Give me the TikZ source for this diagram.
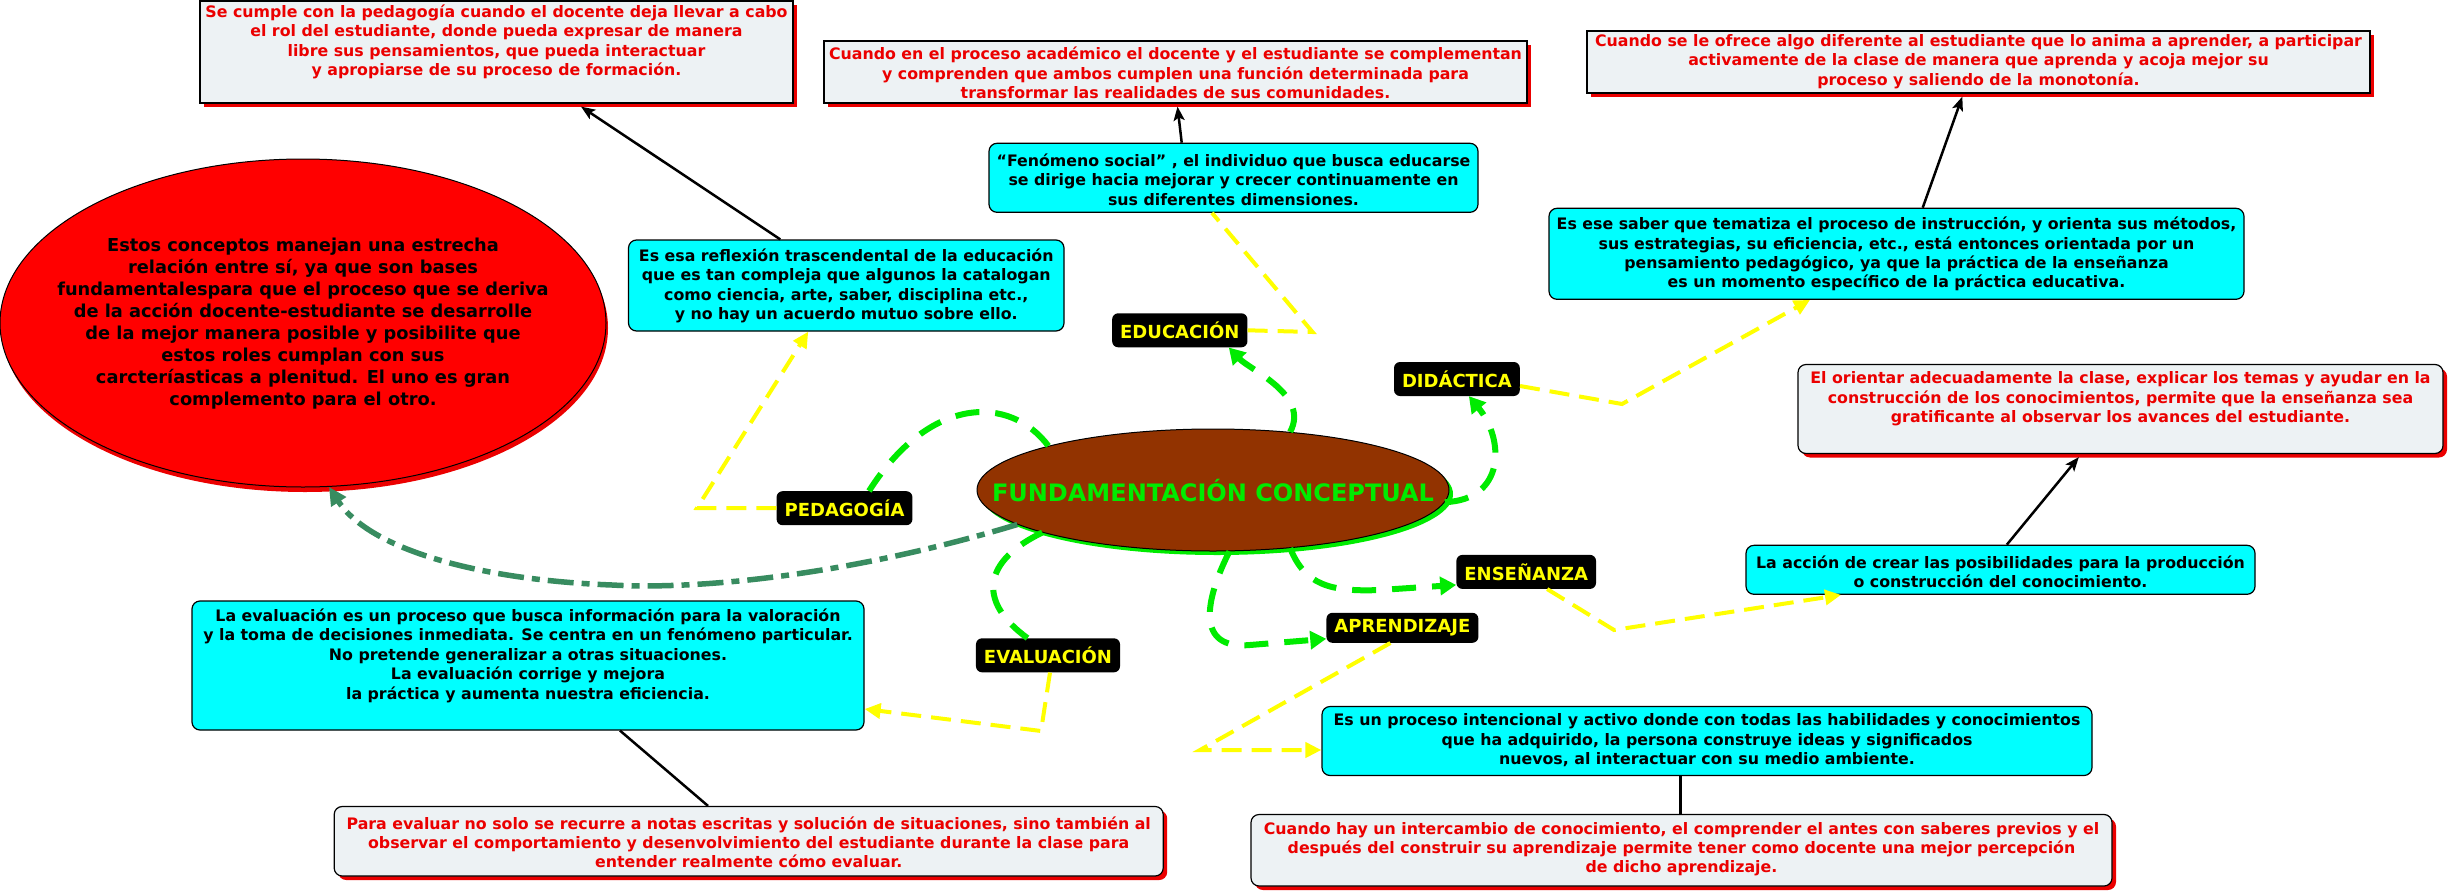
\documentclass[tikz,border=0pt]{standalone}
\usepackage{fontspec}
\setmainfont{DejaVu Sans}
\usetikzlibrary{arrows.meta,shadows,shapes.geometric}
\definecolor{cmred}{RGB}{235,0,0}
\definecolor{boxgray}{RGB}{237,242,244}
\definecolor{cmcyan}{RGB}{0,255,255}
\definecolor{brownc}{RGB}{146,51,0}
\definecolor{brightgreen}{RGB}{0,235,0}
\definecolor{seagreenc}{RGB}{56,140,96}
\definecolor{cmyellow}{RGB}{255,255,0}
\begin{document}
\begin{tikzpicture}[x=1pt,y=-1pt,
  redbox/.style={draw=black, line width=1.2pt, fill=boxgray, inner sep=0pt,
    drop shadow={shadow xshift=4pt, shadow yshift=-4pt, fill=cmred, opacity=1}},
  redboxr/.style={redbox, rounded corners=8pt},
  cyanbox/.style={draw=black, line width=1.2pt, fill=cmcyan, rounded corners=8pt, inner sep=0pt},
  bodytxt/.style={font=\fontsize{15.8}{19.4}\selectfont\bfseries, align=center, inner sep=0pt},
  tagbox/.style={fill=black, rounded corners=6pt, text=cmyellow,
    font=\fontsize{18}{22}\selectfont\bfseries, minimum height=34pt, inner xsep=8pt, inner ysep=0pt},
  blk/.style={draw=black, line width=2.5pt, -{Stealth[length=14pt,width=11pt,inset=3pt]}},
  blkplain/.style={draw=black, line width=2.5pt},
  ylw/.style={draw=cmyellow, line width=4pt, dash pattern=on 20pt off 10pt},
  ylwa/.style={ylw, -{Triangle[length=16pt,width=15pt]}},
  grn/.style={draw=brightgreen, line width=6pt, dash pattern=on 24pt off 16pt},
  grna/.style={grn, -{Triangle[length=16pt,width=18pt]}},
  dkg/.style={draw=seagreenc, line width=5.5pt, dash pattern=on 26pt off 8pt on 8pt off 8pt,
    -{Triangle[length=18pt,width=17pt]}}
]
\path[use as bounding box] (0,0) rectangle (2448,891);

% main ellipses
\node[ellipse, draw=black, line width=1pt, fill=red, minimum width=606pt, minimum height=328pt, inner sep=0pt,
  drop shadow={shadow xshift=2pt, shadow yshift=-5pt, fill=cmred, opacity=1}] (R) at (303,323) {};
\node[font=\fontsize{17.8}{22}\selectfont\bfseries, align=center, inner sep=0pt] (Rt) at (303,323.5)
  {Estos conceptos manejan una estrecha\\relación entre sí, ya que son bases\\fundamentalespara que el proceso que se deriva\\de la acción docente-estudiante se desarrolle\\de la mejor manera posible y posibilite que\\estos roles cumplan con sus\\carcteríasticas a plenitud. El uno es gran\\complemento para el otro.};

\node[ellipse, draw=black, line width=1pt, fill=brownc, minimum width=472pt, minimum height=122pt, inner sep=0pt,
  drop shadow={shadow xshift=4pt, shadow yshift=-4pt, fill=brightgreen, opacity=1}] (FC) at (1213,490) {};
\node[text=brightgreen, font=\fontsize{24}{28}\selectfont\bfseries, inner sep=0pt] (FCt) at (1213,490.5) {FUNDAMENTACIÓN CONCEPTUAL};

% red-text boxes
\node[redbox, minimum width=593pt, minimum height=102pt] (A) at (496.5,52) {};
\node[bodytxt, text=cmred] (At) at (496.5,42)
  {Se cumple con la pedagogía cuando el docente deja llevar a cabo\\el rol del estudiante, donde pueda expresar de manera\\libre sus pensamientos, que pueda interactuar\\y apropiarse de su proceso de formación.};
\node[redbox, minimum width=703pt, minimum height=62pt] (B) at (1175.5,72) {};
\node[bodytxt, text=cmred] (Bt) at (1175.5,72.8)
  {Cuando en el proceso académico el docente y el estudiante se complementan\\y comprenden que ambos cumplen una función determinada para\\transformar las realidades de sus comunidades.};
\node[redbox, minimum width=783pt, minimum height=62pt] (C) at (1978.5,62) {};
\node[bodytxt, text=cmred] (Ct) at (1978.5,61.5)
  {Cuando se le ofrece algo diferente al estudiante que lo anima a aprender, a participar\\activamente de la clase de manera que aprenda y acoja mejor su\\proceso y saliendo de la monotonía.};
\node[redboxr, minimum width=645pt, minimum height=89pt] (G) at (2120.5,409) {};
\node[bodytxt, text=cmred] (Gt) at (2120.5,398.7)
  {El orientar adecuadamente la clase, explicar los temas y ayudar en la\\construcción de los conocimientos, permite que la enseñanza sea\\gratificante al observar los avances del estudiante.};
\node[redboxr, minimum width=861pt, minimum height=71.5pt] (J) at (1681.5,850.25) {};
\node[bodytxt, text=cmred] (Jt) at (1681.5,849.1)
  {Cuando hay un intercambio de conocimiento, el comprender el antes con saberes previos y el\\después del construir su aprendizaje permite tener como docente una mejor percepción\\de dicho aprendizaje.};
\node[redboxr, minimum width=829pt, minimum height=69.5pt] (L) at (748.7,841.25) {};
\node[bodytxt, text=cmred] (Lt) at (748.7,842.2)
  {Para evaluar no solo se recurre a notas escritas y solución de situaciones, sino también al\\observar el comportamiento y desenvolvimiento del estudiante durante la clase para\\entender realmente cómo evaluar.};

% cyan boxes
\node[cyanbox, minimum width=489pt, minimum height=69pt] (D) at (1233.5,177.8) {};
\node[bodytxt] (Dt) at (1233.5,179.4)
  {“Fenómeno social” , el individuo que busca educarse\\se dirige hacia mejorar y crecer continuamente en\\sus diferentes dimensiones.};
\node[cyanbox, minimum width=435.5pt, minimum height=91pt] (E) at (846.25,285.5) {};
\node[bodytxt] (Et) at (846.25,285.9)
  {Es esa reflexión trascendental de la educación\\que es tan compleja que algunos la catalogan\\como ciencia, arte, saber, disciplina etc.,\\y no hay un acuerdo mutuo sobre ello.};
\node[cyanbox, minimum width=695pt, minimum height=91pt] (F) at (1896.5,253.8) {};
\node[bodytxt] (Ft) at (1896.5,254.2)
  {Es ese saber que tematiza el proceso de instrucción, y orienta sus métodos,\\sus estrategias, su eficiencia, etc., está entonces orientada por un\\pensamiento pedagógico, ya que la práctica de la enseñanza\\es un momento específico de la práctica educativa.};
\node[cyanbox, minimum width=509pt, minimum height=49pt] (H) at (2000.5,569.8) {};
\node[bodytxt] (Ht) at (2000.5,571.5)
  {La acción de crear las posibilidades para la producción\\o construcción del conocimiento.};
\node[cyanbox, minimum width=770pt, minimum height=69pt] (I) at (1707,741) {};
\node[bodytxt] (It) at (1707,740.5)
  {Es un proceso intencional y activo donde con todas las habilidades y conocimientos\\que ha adquirido, la persona construye ideas y significados\\nuevos, al interactuar con su medio ambiente.};
\node[cyanbox, minimum width=672pt, minimum height=129pt] (K) at (528,665.5) {};
\node[bodytxt] (Kt) at (528,655.6)
  {La evaluación es un proceso que busca información para la valoración\\y la toma de decisiones inmediata. Se centra en un fenómeno particular.\\No pretende generalizar a otras situaciones.\\La evaluación corrige y mejora\\la práctica y aumenta nuestra eficiencia.};

% labels
\node[tagbox] (EDU) at (1179.8,330.3) {EDUCACIÓN};
\node[tagbox] (DID) at (1456.9,379) {DIDÁCTICA};
\node[tagbox] (PED) at (844.5,508.2) {PEDAGOGÍA};
\node[tagbox] (EVA) at (1048,655.3) {EVALUACIÓN};
\node[tagbox, minimum height=30pt] (APR) at (1402.4,627.8) {APRENDIZAJE};
\node[tagbox] (ENS) at (1526.2,571.9) {ENSEÑANZA};

% black connectors
\draw[blk] ([xshift=-66pt]E.north) -- ([xshift=84.5pt,yshift=-3pt]A.south);
\draw[blk] ([xshift=-51.8pt]D.north) -- ([xshift=2pt,yshift=-3pt]B.south);
\draw[blk] ([xshift=26.2pt]F.north) -- ([xshift=-16.2pt,yshift=-3pt]C.south);
\draw[blk] ([xshift=6.3pt]H.north) -- ([xshift=-41.7pt,yshift=-3pt]G.south);
\draw[blkplain] ([xshift=92pt]K.south) -- ([xshift=-40.7pt]L.north);
\draw[blkplain] ([xshift=-26.4pt]I.south) -- ([xshift=-0.9pt]J.north);

% yellow connectors
\coordinate (y1) at (697,508);
\coordinate (y2) at (1312.5,332);
\coordinate (y3) at (1622,404);
\coordinate (y4) at (1614,630);
\coordinate (y5) at (1200,750);
\coordinate (y6) at (1041,731);
\draw[ylwa] (PED.west) -- (y1) -- ([xshift=-38pt]E.south);
\draw[ylw] (EDU.east) -- (y2) -- ([xshift=-21.5pt]D.south);
\draw[ylwa] ([yshift=-7pt]DID.east) -- (y3) -- ([xshift=-86.5pt]F.south);
\draw[ylwa] ([xshift=21pt]ENS.south) -- (y4) -- ([xshift=-159.5pt]H.south);
\draw[ylwa] ([xshift=-12pt]APR.south) -- (y5) -- ([yshift=-9pt]I.west);
\draw[ylwa] ([xshift=2pt]EVA.south) -- (y6) -- ([yshift=-43.5pt]K.east);

% green connectors
\coordinate (g1) at (1250,645);
\coordinate (g2) at (1380,590);
\draw[grna] (FC.37) .. controls (1310,395) and (1250,370) .. ([xshift=49pt]EDU.south);
\draw[grn] (FC.165) .. controls (1010,395) and (930,395) .. ([xshift=24.5pt]PED.north);
\draw[grn] (FC.194) .. controls (985,560) and (975,600) .. ([xshift=-20.5pt]EVA.north);
\draw[grna] (FC.285) .. controls (1205,600) and (1195,650) .. (g1) -- ([yshift=-11pt]APR.west);
\draw[grna] (FC.323) .. controls (1305,585) and (1330,592) .. (g2) -- ([yshift=-13pt]ENS.west);
\draw[grna] (FC.357) .. controls (1505,500) and (1505,440) .. ([xshift=12pt]DID.south);

% dark green connector
\coordinate (d1) at (612,585);
\draw[dkg] (FC.190) .. controls (850,575) and (700,590) .. (d1) .. controls (480,580) and (370,550) .. (R.279);
\end{tikzpicture}
\end{document}
